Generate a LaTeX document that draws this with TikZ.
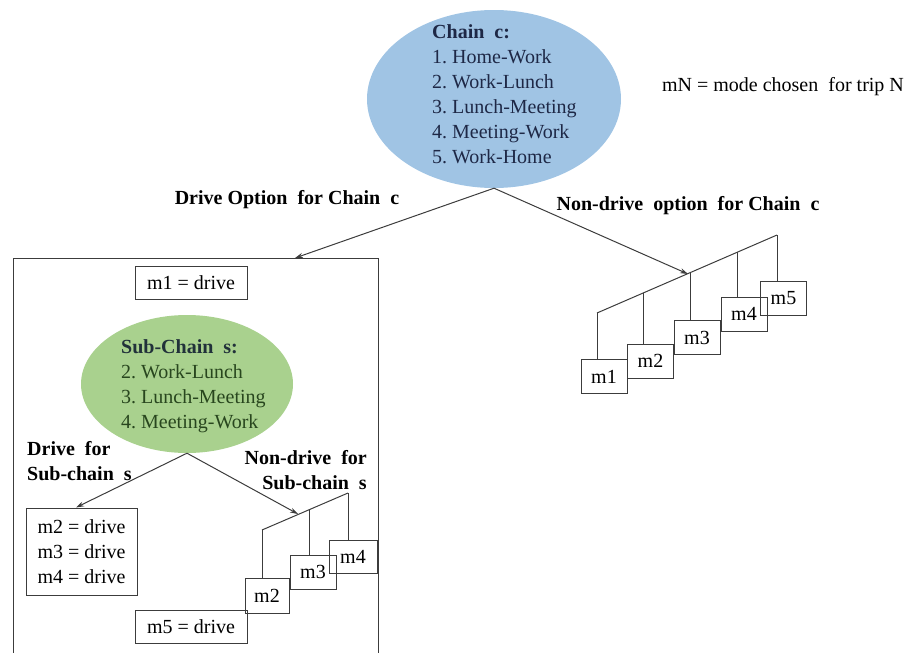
\documentclass[tikz,border=0pt]{standalone}
\usepackage{fontspec}
\setmainfont{Liberation Serif}
\frenchspacing
\usetikzlibrary{shapes.geometric,arrows.meta,calc}
\definecolor{chainblue}{RGB}{160,196,228}
\definecolor{subgreen}{RGB}{169,209,142}
\definecolor{navytxt}{RGB}{30,40,70}
\definecolor{greentxt}{RGB}{40,70,30}
\definecolor{linegray}{RGB}{60,60,60}
\begin{document}
\begin{tikzpicture}[x=1pt,y=-1pt,
  font=\fontsize{20}{25}\selectfont,
  every node/.style={inner sep=0pt},
  ln/.style={draw=linegray,line width=1pt},
  arr/.style={ln,-{Stealth[length=8pt,width=5pt]}},
  mbox/.style={draw=linegray,line width=1pt,minimum width=46pt,minimum height=34pt},
  dbox/.style={draw=linegray,line width=1pt,minimum width=112pt,minimum height=33pt},
  lbl/.style={font=\fontsize{20}{25}\selectfont\bfseries},
]
\useasboundingbox (0,0) rectangle (908,653);

% main chain ellipse
\node[ellipse,fill=chainblue,minimum width=254pt,minimum height=178pt] (chainc) at (494,99) {};
\node[anchor=north west,align=left,text=navytxt] (chaintxt) at (432,24)
  {\textbf{Chain\ \ c:}\\1. Home-Work\\2. Work-Lunch\\3. Lunch-Meeting\\4. Meeting-Work\\5. Work-Home};

\node (legend) at (783,87) {mN = mode chosen\ \ for trip N};

\node[lbl] (drivelbl) at (287,200) {Drive Option\ \ for Chain\ \ c};
\node[lbl] (nondrivelbl) at (688,206) {Non-drive\ \ option\ \ for Chain\ \ c};

% outer box (open at bottom)
\coordinate (obl) at (13,653);
\coordinate (otl) at (13,258);
\coordinate (otr) at (378,258);
\coordinate (obr) at (378,653);
\draw[ln] (obl) -- (otl) -- (otr) -- (obr);
\coordinate (drivein) at (295,258);

% right staircase
\coordinate (s1) at (597,313);
\coordinate (s2) at (643,293);
\coordinate (s3) at (690,273);
\coordinate (s4) at (737,252);
\coordinate (s5) at (777,235);
\coordinate (nondrivein) at (688,274);
\node[mbox] (rm1) at (604,376.5) {m1};
\node[mbox] (rm2) at (650.5,361) {m2};
\node[mbox] (rm3) at (697,337.5) {m3};
\node[mbox] (rm4) at (744,314) {m4};
\node[mbox] (rm5) at (783.5,298) {m5};
\draw[ln] (s1) -- (s5);
\draw[ln] (s1) -- (s1 |- rm1.north);
\draw[ln] (s2) -- (s2 |- rm2.north);
\draw[ln] (s3) -- (s3 |- rm3.north);
\draw[ln] (s4) -- (s4 |- rm4.north);
\draw[ln] (s5) -- (s5 |- rm5.north);

\draw[arr] (chainc.south) -- (drivein);
\draw[arr] (chainc.south) -- (nondrivein);

% left panel
\node[dbox] (m1drive) at (191,282.5) {m1 = drive};
\node[ellipse,fill=subgreen,minimum width=212pt,minimum height=138pt] (subc) at (187,384) {};
\node[anchor=north west,align=left,text=greentxt] (subtxt) at (121,339)
  {\textbf{\color{navytxt!70!greentxt}Sub-Chain\ \ s:}\\2. Work-Lunch\\3. Lunch-Meeting\\4. Meeting-Work};

\node[lbl,anchor=west,align=left] (drivesub) at (27,461) {Drive\ \ for\\Sub-chain\ \ s};
\node[lbl,anchor=east,align=right] (nondrivesub) at (367,470) {Non-drive\ \ for\\Sub-chain\ \ s};

\node[draw=linegray,line width=1pt,minimum width=111pt,minimum height=87pt,align=left] (drivebox) at (81.5,551.5)
  {m2 = drive\\m3 = drive\\m4 = drive};

\coordinate (t1) at (262,530);
\coordinate (t2) at (309,510);
\coordinate (t3) at (348,493);
\coordinate (nondrivesin) at (298,514);
\node[mbox,minimum width=44pt,minimum height=35pt] (lm2) at (267,595.5) {m2};
\node[mbox] (lm3) at (313,572) {m3};
\node[mbox,minimum width=48pt,minimum height=33pt] (lm4) at (353,556.5) {m4};
\draw[ln] (t1) -- (t3);
\draw[ln] (t1) -- (t1 |- lm2.north);
\draw[ln] (t2) -- (t2 |- lm3.north);
\draw[ln] (t3) -- (t3 |- lm4.north);

\node[dbox] (m5drive) at (191,626.5) {m5 = drive};

\draw[arr] (subc.south) -- (drivebox.north west -| 76,0);
\draw[arr] (subc.south) -- (nondrivesin);
\end{tikzpicture}
\end{document}
